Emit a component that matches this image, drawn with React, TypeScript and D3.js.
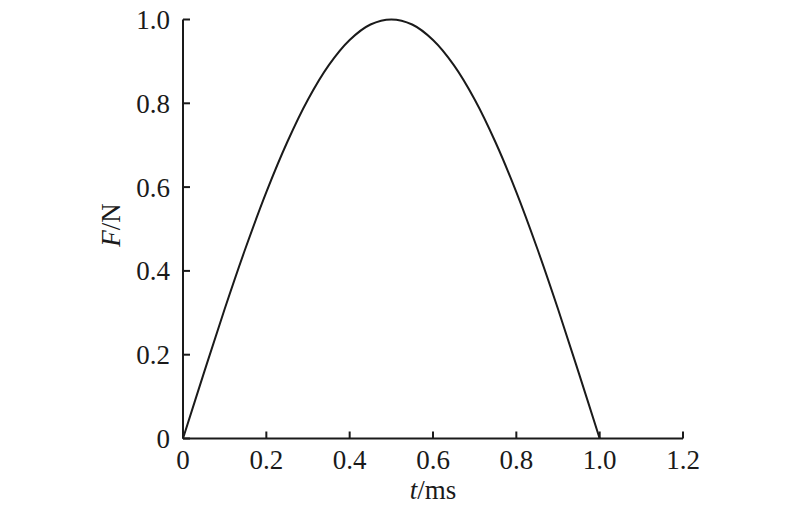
import React from "react";
import * as d3 from "d3";

const tValues = [0, 0.05, 0.1, 0.15, 0.2, 0.25, 0.3, 0.35, 0.4, 0.45, 0.5, 0.55, 0.6, 0.65, 0.7, 0.75, 0.8, 0.85, 0.9, 0.95, 1.0];
const fValues = [0, 0.156, 0.309, 0.454, 0.588, 0.707, 0.809, 0.891, 0.951, 0.988, 1.0, 0.988, 0.951, 0.891, 0.809, 0.707, 0.588, 0.454, 0.309, 0.156, 0];
const xTicks = [0, 0.2, 0.4, 0.6, 0.8, 1.0, 1.2];
const xTickLabels = ["0", "0.2", "0.4", "0.6", "0.8", "1.0", "1.2"];
const yTicks = [0, 0.2, 0.4, 0.6, 0.8, 1.0];
const yTickLabels = ["0", "0.2", "0.4", "0.6", "0.8", "1.0"];

export default function App() {
  const W = 800, H = 511;
  const x = d3.scaleLinear().domain([0, 1.2]).range([183, 683]);
  const y = d3.scaleLinear().domain([0, 1.0]).range([438.5, 19.5]);
  const pts = tValues.map((t, i) => [t, fValues[i]] as [number, number]);
  const line = d3.line<[number, number]>().x(d => x(d[0])).y(d => y(d[1])).curve(d3.curveCatmullRom.alpha(0.5));
  const font = "'Liberation Serif', 'Times New Roman', serif";
  const col = "#1a1a1a";
  return (
    <svg width={W} height={H} style={{ position: "absolute", left: 0, top: 0, background: "#fff" }}>
      <rect width={W} height={H} fill="#fff" />
      <path d={line(pts) || ""} fill="none" stroke={col} strokeWidth={2} />
      <line x1={x(0)} x2={x(0)} y1={y(1.0)} y2={y(0)} stroke={col} strokeWidth={2} />
      <line x1={x(0)} x2={x(1.2)} y1={y(0)} y2={y(0)} stroke={col} strokeWidth={2} />
      {yTicks.map((v, i) => (
        <g key={"y" + i}>
          <line x1={x(0)} x2={x(0) + 7} y1={y(v)} y2={y(v)} stroke={col} strokeWidth={2} />
          <text x={170} y={y(v)} dy="0.35em" textAnchor="end" fontFamily={font} fontSize={27} fill={col}>{yTickLabels[i]}</text>
        </g>
      ))}
      {xTicks.map((v, i) => (
        <g key={"x" + i}>
          <line x1={x(v)} x2={x(v)} y1={y(0)} y2={y(0) - 7} stroke={col} strokeWidth={2} />
          <text x={x(v)} y={469} textAnchor="middle" fontFamily={font} fontSize={27} fill={col}>{xTickLabels[i]}</text>
        </g>
      ))}
      <text transform={`translate(120,225) rotate(-90)`} textAnchor="middle" fontFamily={font} fontSize={27} fill={col}>
        <tspan fontStyle="italic">F</tspan>/N
      </text>
      <text x={433} y={499} textAnchor="middle" fontFamily={font} fontSize={27} fill={col}>
        <tspan fontStyle="italic">t</tspan>/ms
      </text>
    </svg>
  );
}
